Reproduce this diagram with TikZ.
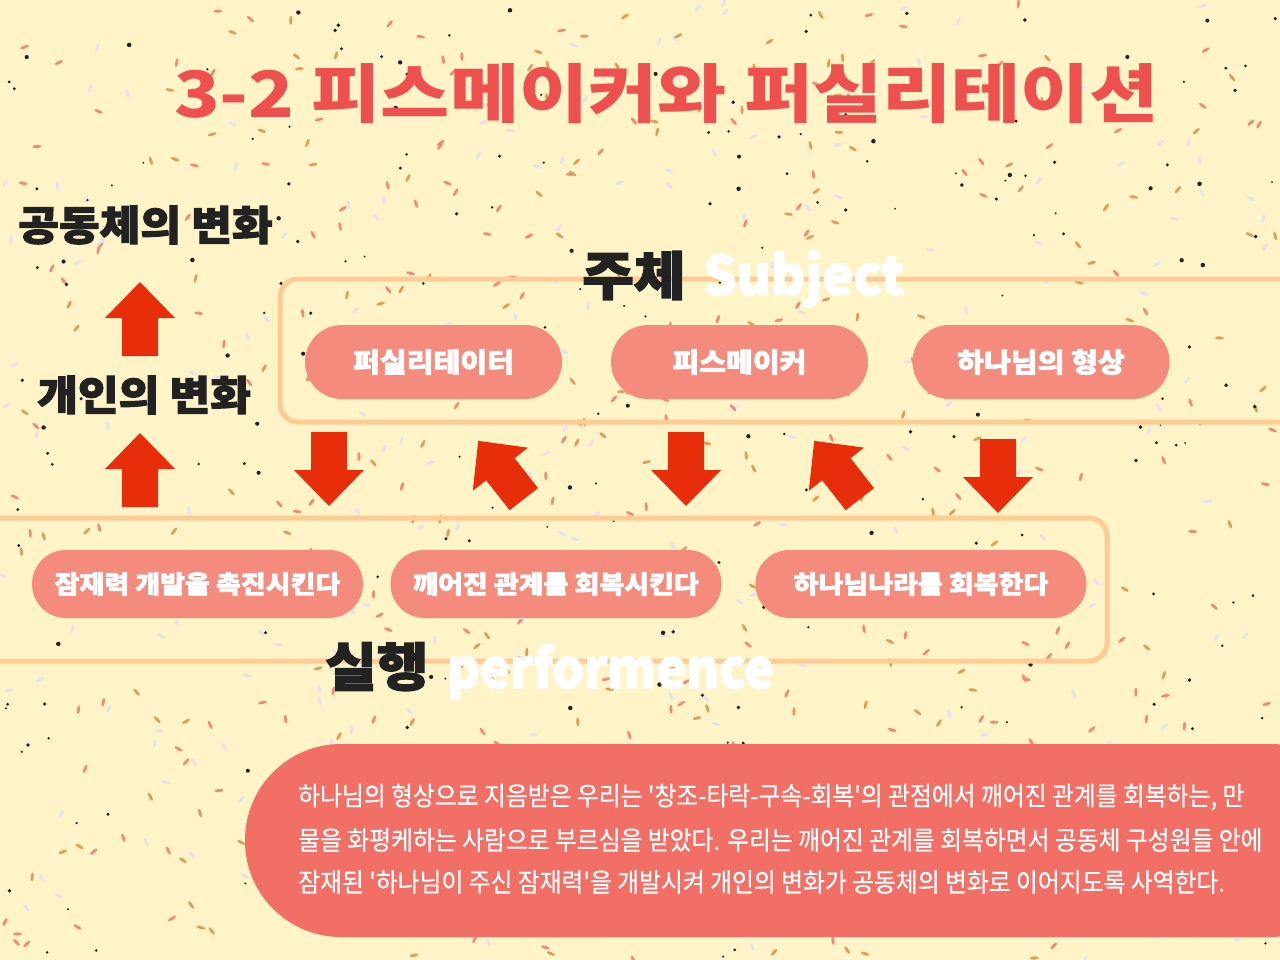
\documentclass[tikz,border=0pt]{standalone}
\usepackage{fontspec}
\newfontfamily\krheavy{Noto Sans CJK KR}[BoldFeatures={FakeBold=2.5,FakeStretch=1.08}]
\newfontfamily\latsubj{Noto Sans CJK KR}[BoldFeatures={FakeBold=2.5,FakeStretch=0.97}]
\newfontfamily\latperf{Noto Sans CJK KR}[BoldFeatures={FakeBold=2.5,FakeStretch=0.925}]
\newfontfamily\krbody{Noto Sans CJK KR}[FakeStretch=0.915,FakeBold=0.4]
\newfontfamily\krtitle{Noto Sans CJK KR}[BoldFeatures={FakeStretch=1.175}]
\definecolor{bg}{HTML}{FFF4C7}
\definecolor{peach}{HTML}{FFCB95}
\definecolor{pillc}{HTML}{F48B7C}
\definecolor{arrowred}{HTML}{E82D0B}
\definecolor{boxred}{HTML}{F26F66}
\definecolor{titlered}{HTML}{EE4F4F}
\definecolor{ink}{HTML}{222222}
\definecolor{cftan}{HTML}{DDA05A}
\definecolor{cfsalm}{HTML}{EE8C7C}
\definecolor{cflav}{HTML}{E4E2EE}
\tikzset{
  pilltop/.style={fill=pillc, rounded corners=37, minimum width=257, minimum height=74, inner sep=0, text=white, font=\krheavy\bfseries\fontsize{27}{30}\selectfont},
  pillbot/.style={fill=pillc, rounded corners=34, minimum width=331, minimum height=68, inner sep=0, text=white, font=\krheavy\bfseries\fontsize{25}{28}\selectfont},
  heading/.style={inner sep=0, text=ink, font=\krheavy\bfseries\fontsize{41}{46}\selectfont},
  bighead/.style={inner sep=0, text=ink, font=\krheavy\bfseries\fontsize{52}{58}\selectfont},
  engword/.style={inner sep=0, text=white},
  bodyline/.style={inner sep=0, anchor=west, text=white, font=\krbody\fontsize{26}{30}\selectfont},
  framebox/.style={draw=peach, line width=5, rounded corners=18},
  bigarr/.pic={\fill[arrowred] (0,-37) -- (35,-1) -- (18,-1) -- (18,37) -- (-18,37) -- (-18,-1) -- (-35,-1) -- cycle;}
}
\begin{document}
\begin{tikzpicture}[x=1pt,y=-1pt]
\useasboundingbox (0,0) rectangle (1280,960);
\clip (0,0) rectangle (1280,960);
\fill[bg] (0,0) rectangle (1280,960);
% confetti
\pgfmathsetseed{7}
\foreach \i in {1,...,700}{
  \pgfmathsetmacro\cx{rnd*1280}
  \pgfmathsetmacro\cy{rnd*960}
  \pgfmathsetmacro\ang{rnd*180}
  \pgfmathtruncatemacro\k{int(rnd*3)}
  \ifcase\k \def\cc{cftan}\or \def\cc{cfsalm}\else \def\cc{cflav}\fi
  \fill[\cc, rotate around={\ang:(\cx,\cy)}] (\cx,\cy) ellipse (4.5 and 1.6);
}
\foreach \i in {1,...,240}{
  \pgfmathsetmacro\cx{rnd*1280}
  \pgfmathsetmacro\cy{rnd*960}
  \pgfmathsetmacro\rr{1.0+rnd*1.3}
  \fill[ink] (\cx,\cy) circle (\rr);
}
% title
\node[inner sep=0, anchor=west, text=titlered, font=\krtitle\bfseries\fontsize{64}{70}\selectfont] (title) at (174,94) {3-2 피스메이커와 퍼실리테이션};
% frames
\draw[framebox] (280,279) rectangle (1300,422);
\draw[framebox] (-30,518) rectangle (1107,661);
% left headings
\node[heading, anchor=west] (comm) at (18,225) {공동체의 변화};
\node[heading, anchor=west] (indiv) at (37,395) {개인의 변화};
% arrows
\pic at (140,319) {bigarr};
\pic at (140,470) {bigarr};
\pic[rotate=180] at (329,469) {bigarr};
\pic[rotate=180] at (686,469) {bigarr};
\pic[rotate=180] at (998,476) {bigarr};
\pic[rotate=38] at (501,470) {bigarr};
\pic[rotate=38] at (837,470) {bigarr};
% subject heading
\node[bighead, anchor=base west] (subjko) at (582,295) {주체};
\node[engword, anchor=base west, font=\latsubj\bfseries\fontsize{54}{60}\selectfont] (subjen) at (703,295) {Subject};
% top pills
\node[pilltop] (p1) at (433.5,362) {퍼실리테이터};
\node[pilltop] (p2) at (739.5,362) {피스메이커};
\node[pilltop] (p3) at (1041,362) {하나님의 형상};
% bottom pills
\node[pillbot] (q1) at (197.5,584) {잠재력 개발을 촉진시킨다};
\node[pillbot] (q2) at (556,584) {깨어진 관계를 회복시킨다};
\node[pillbot] (q3) at (921,584) {하나님나라를 회복한다};
% performance heading
\node[bighead, anchor=base west] (perfko) at (325,686) {실행};
\node[engword, anchor=base west, font=\latperf\bfseries\fontsize{54}{60}\selectfont] (perfen) at (447,688) {performence};
% text box
\fill[boxred, rounded corners=96] (245,744) rectangle (700,937);
\fill[boxred, rounded corners=20] (500,744) rectangle (1295,937);
\node[bodyline] (l1) at (298,797) {하나님의 형상으로 지음받은 우리는 '창조-타락-구속-회복'의 관점에서 깨어진 관계를 회복하는, 만};
\node[bodyline] (l2) at (298,840) {물을 화평케하는 사람으로 부르심을 받았다. 우리는 깨어진 관계를 회복하면서 공동체 구성원들 안에};
\node[bodyline] (l3) at (298,882) {잠재된 '하나님이 주신 잠재력'을 개발시켜 개인의 변화가 공동체의 변화로 이어지도록 사역한다.};
\end{tikzpicture}
\end{document}
